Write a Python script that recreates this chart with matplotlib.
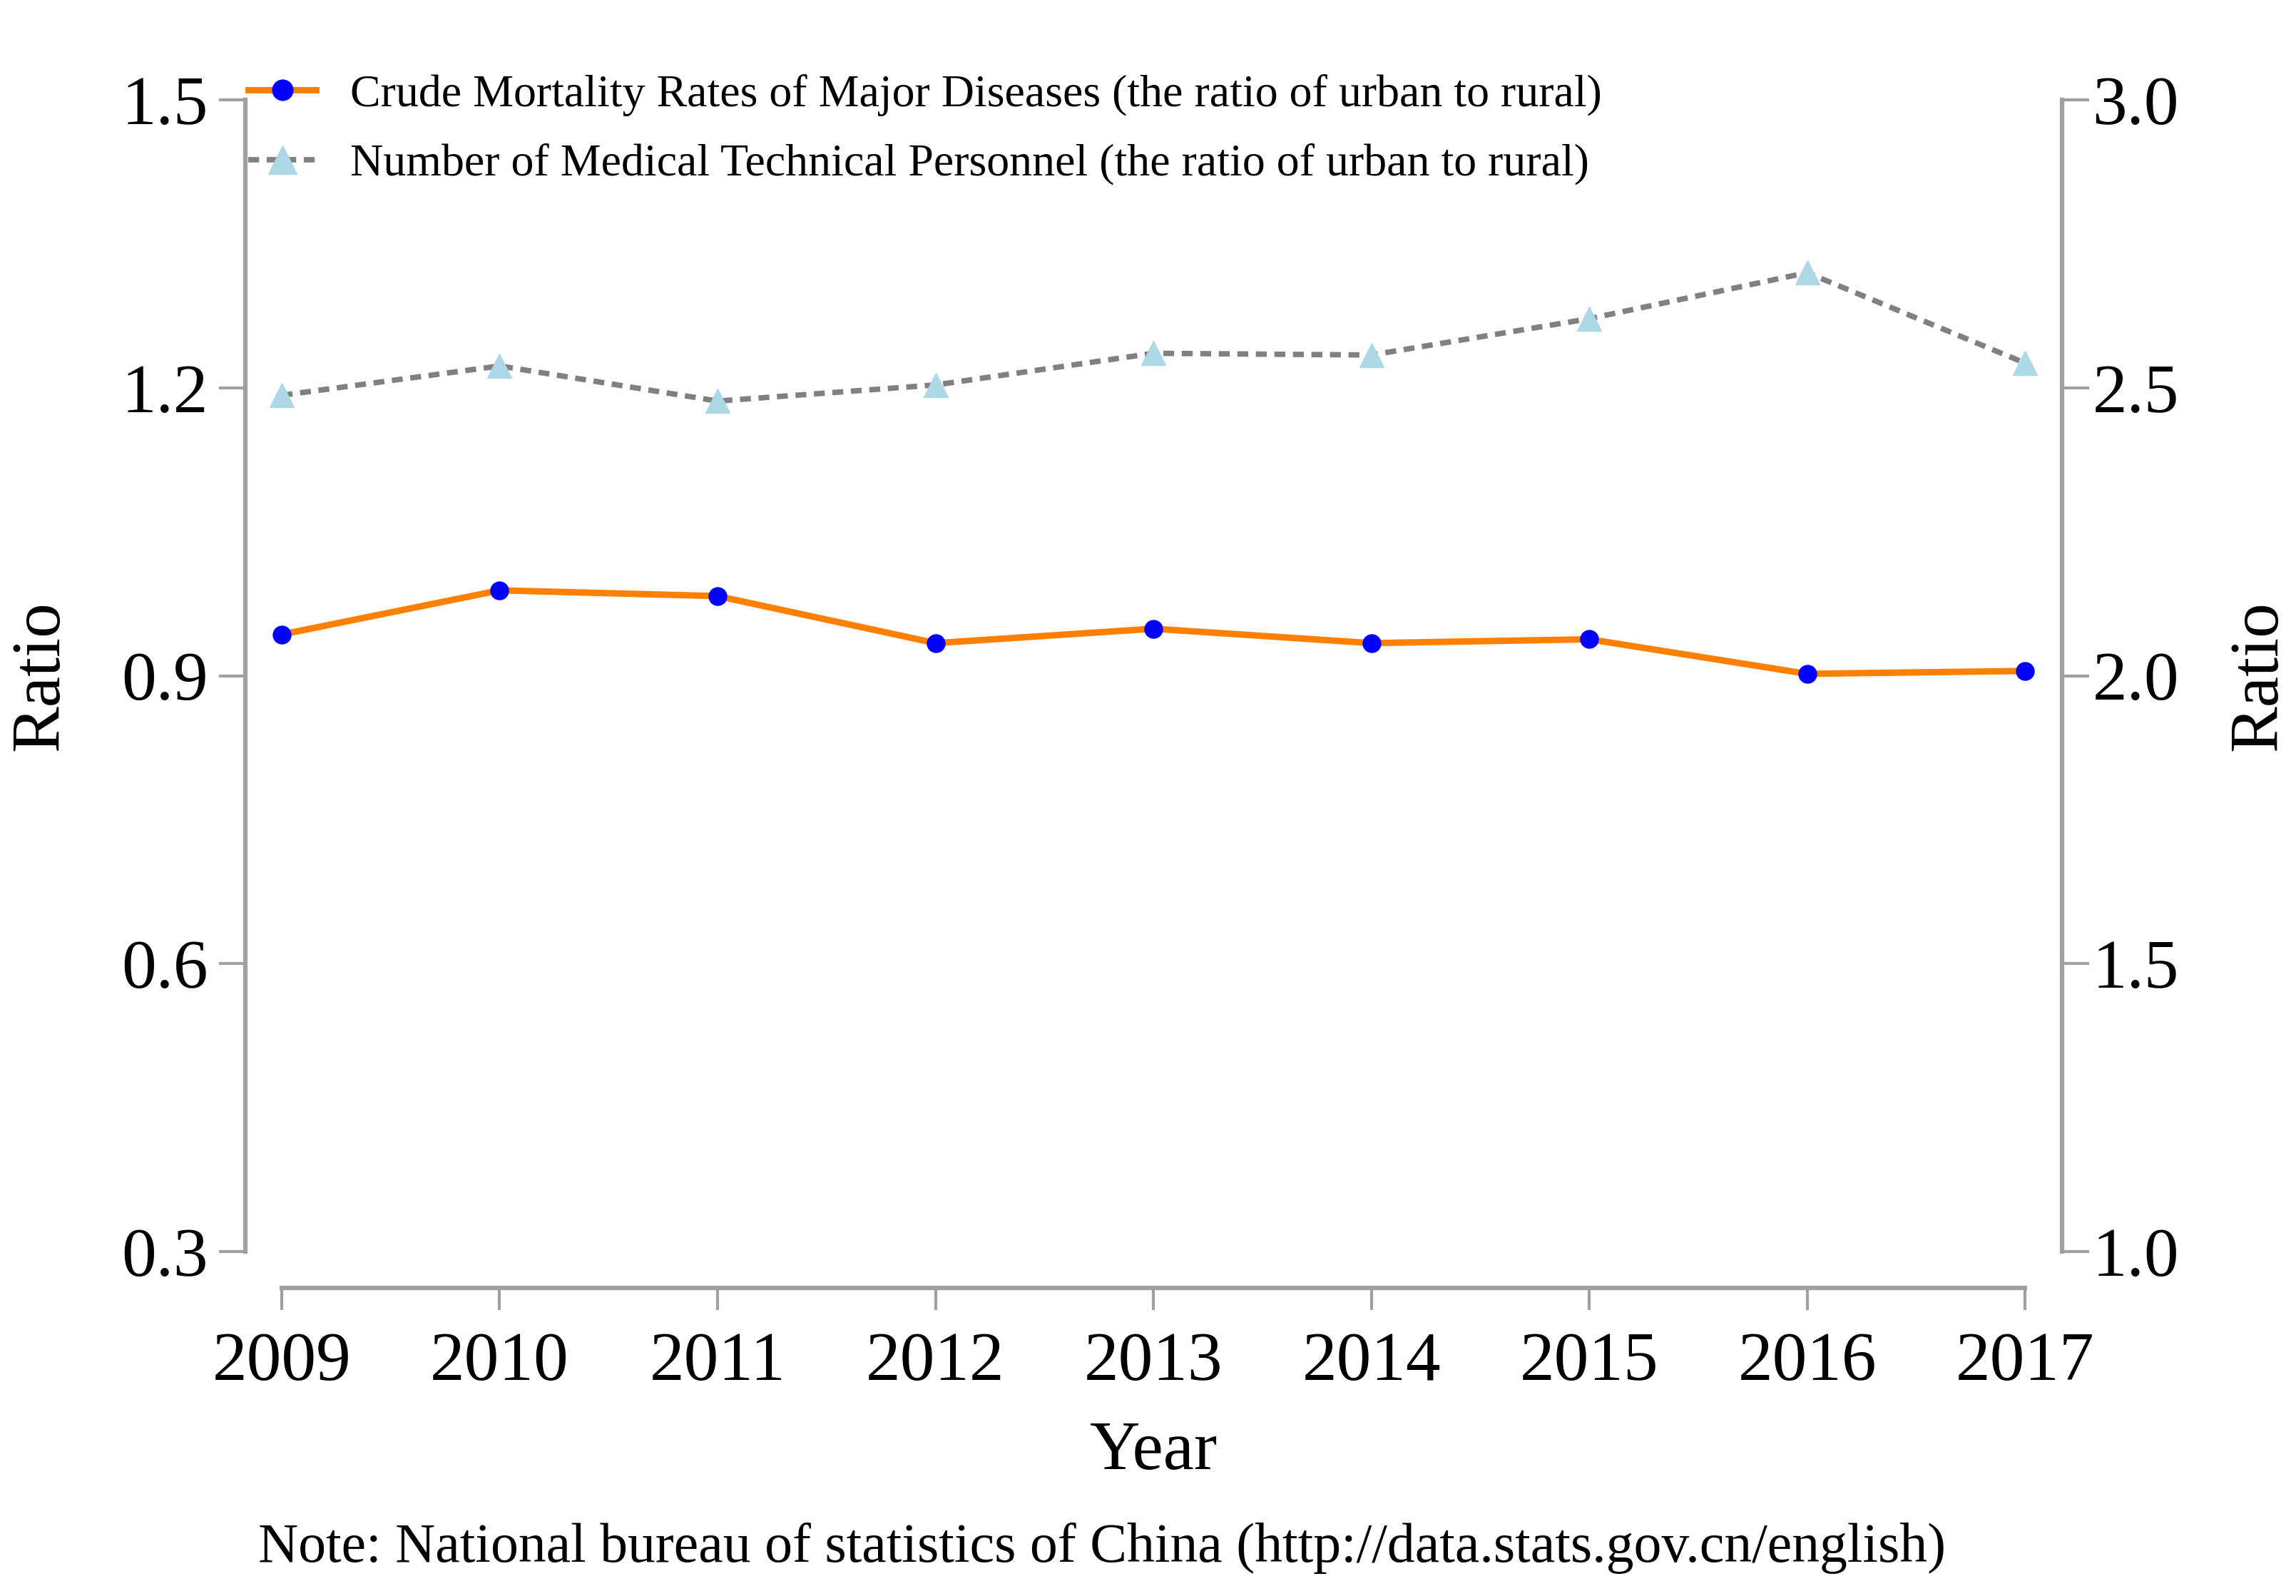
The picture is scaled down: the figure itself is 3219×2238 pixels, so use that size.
import matplotlib
matplotlib.use("Agg")
import matplotlib.pyplot as plt

plt.rcParams['font.family'] = ['Liberation Serif', 'DejaVu Serif']

years = [2009, 2010, 2011, 2012, 2013, 2014, 2015, 2016, 2017]
mortality_ratio = [0.943, 0.989, 0.983, 0.934, 0.949, 0.934, 0.938, 0.902, 0.905]
personnel_ratio = [2.487, 2.538, 2.477, 2.505, 2.560, 2.557, 2.620, 2.700, 2.543]

left_ticks = [0.3, 0.6, 0.9, 1.2, 1.5]
right_ticks = [1.0, 1.5, 2.0, 2.5, 3.0]

label_mort = "Crude Mortality Rates of Major Diseases (the ratio of urban to rural)"
label_pers = "Number of Medical Technical Personnel (the ratio of urban to rural)"
note = "Note: National bureau of statistics of China (http://data.stats.gov.cn/english)"

spine_col = "#a0a0a0"

fig = plt.figure(figsize=(32.19, 22.38), dpi=100)
ax = fig.add_axes([0.1227, 0.2158, 0.882 - 0.1227, 0.9374 - 0.2158])
ax2 = ax.twinx()

l1, = ax.plot(years, mortality_ratio, color="#ff8000", lw=6.5, marker="o",
              markersize=18, markerfacecolor="#0000ff", markeredgecolor="#0000ff",
              clip_on=False)
l2, = ax2.plot(years, personnel_ratio, color="#808080", lw=5.5, linestyle=(0, (2, 1.4)),
               marker="^", markersize=25, markerfacecolor="#add8e6", markeredgecolor="#add8e6",
               clip_on=False)

ax.set_xlim(2009, 2017)
ax.set_ylim(0.3, 1.5)
ax2.set_ylim(1.0, 3.0)
ax.set_xticks(years)
ax.set_yticks(left_ticks)
ax.set_yticklabels([f"{t:.1f}" for t in left_ticks])
ax2.set_yticks(right_ticks)
ax2.set_yticklabels([f"{t:.1f}" for t in right_ticks])

for a in (ax, ax2):
    a.spines['top'].set_visible(False)
    for s in ('left', 'right', 'bottom'):
        a.spines[s].set_color(spine_col)
        a.spines[s].set_linewidth(4.5)
        a.spines[s].set_position(('outward', 37))
    a.patch.set_visible(False)

ax.spines['right'].set_visible(False)
ax2.spines['left'].set_visible(False)
ax2.spines['bottom'].set_visible(False)
ax.spines['left'].set_bounds(0.3, 1.5)
ax2.spines['right'].set_bounds(1.0, 3.0)
ax.spines['bottom'].set_bounds(2009, 2017)

ax.tick_params(axis='y', length=27, width=3, color=spine_col, labelsize=70, pad=10)
ax.tick_params(axis='x', length=22, width=3, color=spine_col, labelsize=70, pad=22)
ax2.tick_params(axis='y', length=27, width=3, color=spine_col, labelsize=70, pad=4)

ax.set_xlabel("Year", fontsize=70)
ax.xaxis.set_label_coords(0.5, -0.147)
ax.set_ylabel("Ratio", fontsize=70, va='center')
ax.yaxis.set_label_coords(-0.138, 0.5)
ax2.set_ylabel("Ratio", fontsize=70, va='center', rotation=90)
ax2.yaxis.set_label_coords(1.1346, 0.5)

fig.legend([l1, l2], [label_mort, label_pers], loc='upper left',
           bbox_to_anchor=(0.108, 0.9536), frameon=False, fontsize=46,
           borderaxespad=0, borderpad=0, handlelength=1.5, handletextpad=0.75,
           labelspacing=0.6, markerscale=1.15)

fig.text(0.48, 0.03, note, ha='center', va='center', fontsize=56)

fig.savefig("out.png", dpi=100)
